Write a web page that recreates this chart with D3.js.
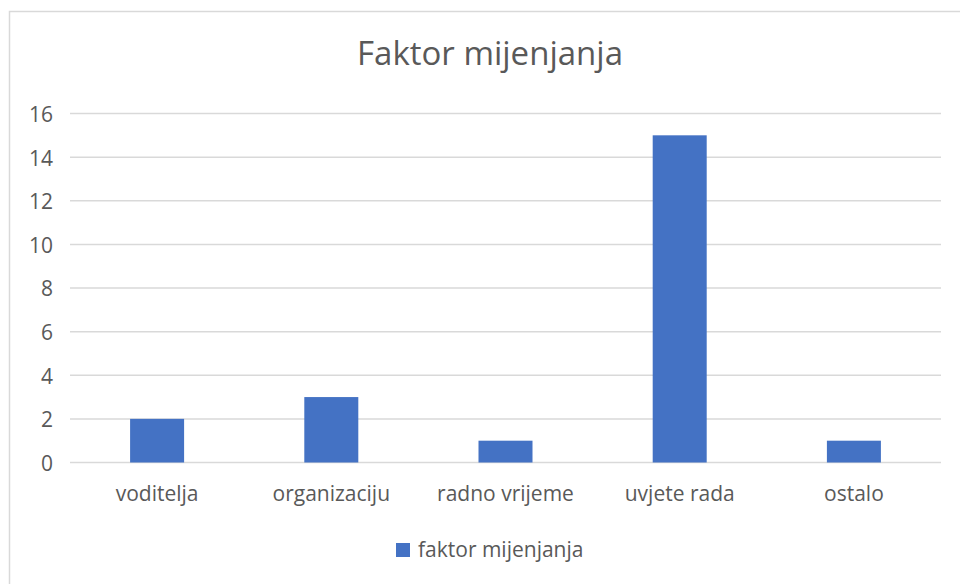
<!DOCTYPE html>
<html>
<head>
<meta charset="utf-8">
<script src="https://cdn.jsdelivr.net/npm/d3@7"></script>
<style>
  html, body { margin: 0; padding: 0; background: #fff; }
  svg { display: block; }
</style>
</head>
<body>
<svg id="chart" width="960" height="584"></svg>
<script>
const categories = ["voditelja", "organizaciju", "radno vrijeme", "uvjete rada", "ostalo"];
const values = [2, 3, 1, 15, 1];
const yTicks = [0, 2, 4, 6, 8, 10, 12, 14, 16];
const seriesName = "faktor mijenjanja";
const title = "Faktor mijenjanja";

const svg = d3.select("#chart");
const font = "'Open Sans', sans-serif";
const textColor = "#595959";
const barColor = "#4472C4";
const gridColor = "#d9d9d9";

// chart border
svg.append("rect")
  .attr("x", 9.5).attr("y", 11.5)
  .attr("width", 962).attr("height", 590)
  .attr("fill", "#fff")
  .attr("stroke", gridColor).attr("stroke-width", 1.5);

const plot = { left: 70, right: 941, top: 113.5, bottom: 462.5 };

const x = d3.scaleBand()
  .domain(categories)
  .range([plot.left, plot.right])
  .paddingInner(0.69)
  .paddingOuter(0.345);

const y = d3.scaleLinear()
  .domain([0, 16])
  .range([plot.bottom, plot.top]);

// gridlines
svg.append("g")
  .selectAll("line")
  .data(yTicks)
  .join("line")
  .attr("x1", plot.left).attr("x2", plot.right)
  .attr("y1", d => y(d)).attr("y2", d => y(d))
  .attr("stroke", gridColor).attr("stroke-width", 1.5);

// y axis labels
const yAxis = d3.axisLeft(y).tickValues(yTicks).tickSize(0).tickPadding(0);
const gy = svg.append("g").attr("transform", `translate(${53},0)`).call(yAxis);
gy.select(".domain").remove();
gy.selectAll("text")
  .attr("font-family", font).attr("font-size", 21)
  .attr("fill", textColor).attr("dy", "0.38em");

// bars
svg.append("g")
  .selectAll("rect")
  .data(values)
  .join("rect")
  .attr("x", (d, i) => x(categories[i]))
  .attr("width", x.bandwidth())
  .attr("y", d => y(d))
  .attr("height", d => y(0) - y(d))
  .attr("fill", barColor);

// x axis labels
const xAxis = d3.axisBottom(x).tickSize(0).tickPadding(0);
const gx = svg.append("g").attr("transform", `translate(0,${plot.bottom})`).call(xAxis);
gx.select(".domain").remove();
gx.selectAll("text")
  .attr("font-family", font).attr("font-size", 21)
  .attr("fill", textColor).attr("dy", null).attr("y", 38);

// title
svg.append("text")
  .attr("x", 490).attr("y", 65)
  .attr("text-anchor", "middle")
  .attr("font-family", font).attr("font-size", 33)
  .attr("fill", textColor)
  .text(title);

// legend
const legend = svg.append("g");
legend.append("rect")
  .attr("x", 396).attr("y", 543)
  .attr("width", 14).attr("height", 14)
  .attr("fill", barColor);
legend.append("text")
  .attr("x", 418).attr("y", 557)
  .attr("font-family", font).attr("font-size", 21)
  .attr("fill", textColor)
  .text(seriesName);
</script>
</body>
</html>
